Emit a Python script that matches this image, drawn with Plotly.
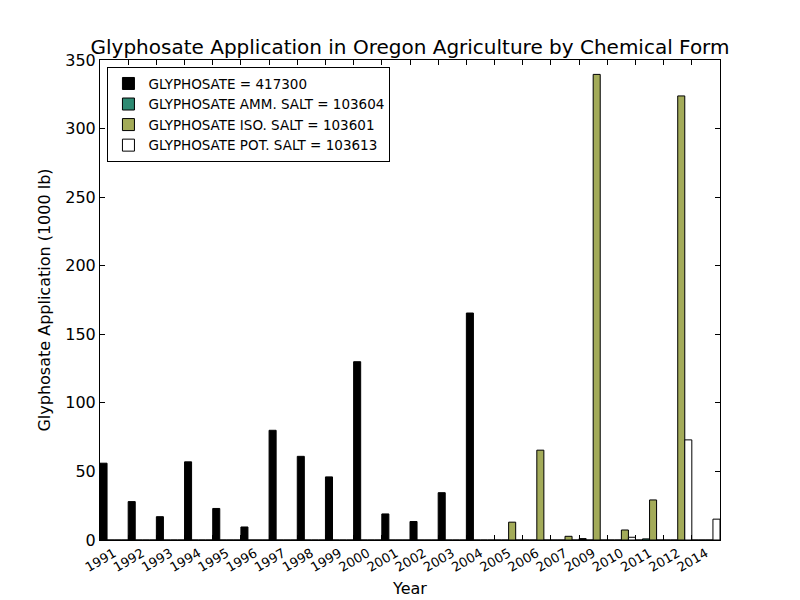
import plotly.graph_objects as go

years = ["1991", "1992", "1993", "1994", "1995", "1996", "1997", "1998", "1999", "2000",
         "2001", "2002", "2003", "2004", "2005", "2006", "2007", "2009", "2010", "2011",
         "2012", "2014"]

glyphosate = [56, 28, 17, 57, 23, 9.5, 80, 61, 46, 130,
              19, 13.5, 34.5, 165.5, 0, 0, 0, 1, 0, 0,
              0, 0]
amm_salt = [0, 0, 0, 0, 0, 0, 0, 0, 0, 0,
            0, 0, 0, 0, 0, 0, 0, 0, 0, 0.8,
            0, 0]
iso_salt = [0, 0, 0, 0, 0, 0, 0, 0, 0, 0,
            0, 0, 0, 0, 13, 65.5, 2.7, 339.5, 7.3, 29.2,
            323.8, 0]
pot_salt = [0, 0, 0, 0, 0, 0, 0, 0, 0, 0,
            0, 0, 0, 0, 0, 0, 0, 0, 2, 0,
            73, 15.2]

series_names = ["GLYPHOSATE = 417300", "GLYPHOSATE AMM. SALT = 103604",
                "GLYPHOSATE ISO. SALT = 103601", "GLYPHOSATE POT. SALT = 103613"]
series_values = [glyphosate, amm_salt, iso_salt, pot_salt]
colors = ["#000000", "#2E8A72", "#A3AB59", "#FFFFFF"]

width = 0.25
idx = list(range(len(years)))

fig = go.Figure()
for k, (name, vals, col) in enumerate(zip(series_names, series_values, colors)):
    fig.add_trace(go.Bar(
        x=[i + k * width for i in idx],
        y=vals,
        width=width,
        offset=0,
        name=name,
        marker=dict(color=col, line=dict(color="black", width=1)),
    ))

font = "DejaVu Sans, sans-serif"
fig.update_layout(
    width=800, height=600,
    paper_bgcolor="white", plot_bgcolor="white",
    barmode="overlay",
    margin=dict(l=92, r=88, t=52, b=68, autoexpand=False),
    font=dict(family=font, color="black", size=16),
    title=dict(text="Glyphosate Application in Oregon Agriculture by Chemical Form",
               x=0.5, xanchor="center", xref="paper",
               yref="container", y=1 - 46 / 600, yanchor="bottom",
               font=dict(size=20, color="black")),
    showlegend=True,
    legend=dict(x=0.012, y=0.985, xanchor="left", yanchor="top",
                bgcolor="white", bordercolor="black", borderwidth=1,
                font=dict(size=13.5, color="black"), tracegroupgap=0,
                itemwidth=30),
    xaxis=dict(
        range=[0, len(years)], automargin=False,
        tickmode="array", tickvals=idx, ticktext=years,
        tickangle=-30, ticklabelshift=14,
        tickfont=dict(size=13),
        ticks="inside", ticklen=5, tickcolor="black",
        showline=True, linecolor="black", linewidth=1, mirror="ticks",
        showgrid=False, zeroline=False,
        title=dict(text="Year", font=dict(size=16), standoff=8),
    ),
    yaxis=dict(
        range=[0, 350], automargin=False,
        tickmode="array", tickvals=[0, 50, 100, 150, 200, 250, 300, 350],
        tickfont=dict(size=16),
        ticks="inside", ticklen=5, tickcolor="black",
        showline=True, linecolor="black", linewidth=1, mirror="ticks",
        showgrid=False, zeroline=False,
        title=dict(text="Glyphosate Application (1000 lb)", font=dict(size=16), standoff=10),
    ),
)

fig.write_html("out.html")
